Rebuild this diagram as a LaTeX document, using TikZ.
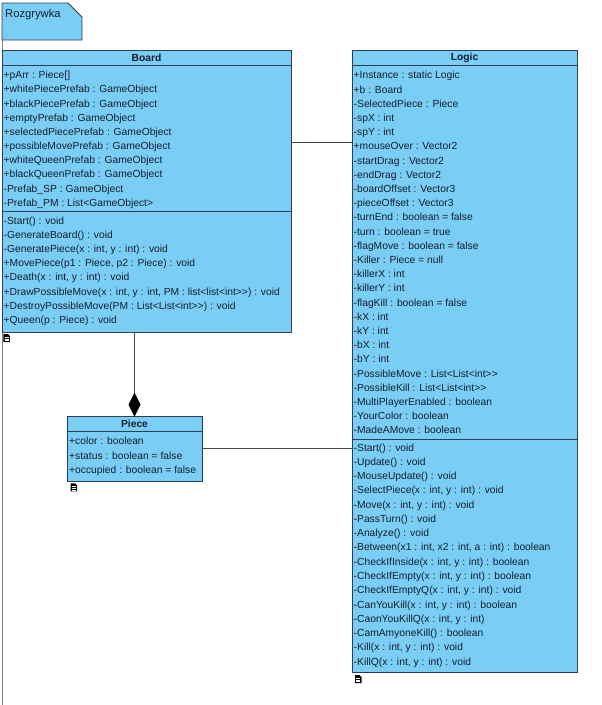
\documentclass[tikz,border=0pt]{standalone}
\usepackage{fontspec}
\setmainfont{Liberation Sans}[Ligatures=TeXOff]
\usetikzlibrary{arrows.meta}
\definecolor{umlfill}{RGB}{122,206,245}
\definecolor{umlline}{RGB}{45,62,80}
\definecolor{umltext}{RGB}{20,30,45}
\definecolor{pkgline}{RGB}{130,130,130}
\definecolor{conn}{RGB}{70,70,70}
\begin{document}
\begin{tikzpicture}[x=1pt,y=-1pt,
  classbox/.style={draw=umlline, fill=umlfill, line width=0.9pt, rectangle, inner sep=0pt, outer sep=0pt, anchor=north west},
  member/.style={anchor=base west, inner sep=0pt, font=\fontsize{10.3}{12}\selectfont, text=umltext},
  pkgtitle/.style={anchor=base west, inner sep=0pt, font=\fontsize{11.2}{13}\selectfont, text=umltext},
  classtitle/.style={anchor=center, inner sep=0pt, font=\bfseries\fontsize{10.3}{12}\selectfont, text=umltext},
  sepline/.style={draw=umlline, line width=0.9pt},
  assoc/.style={draw=conn, line width=0.8pt},
  docicon/.pic={
    \fill[black] (0,0) -- (4.5,0) -- (6.5,2) -- (6.5,8) -- (0,8) -- cycle;
    \draw[white, line width=0.5pt] (1.2,3.3) -- (5.2,3.3) (1.2,4.9) -- (5.2,4.9) (1.2,6.5) -- (5.2,6.5);
  }]
\useasboundingbox (0,0) rectangle (602,705);
\fill[white] (0,0) rectangle (602,705);

% package
\draw[pkgline, line width=0.9pt] (2,40) -- (2,705);
\draw[umlline, fill=umlfill, line width=0.8pt] (2,3) -- (68,3) -- (82,17) -- (82,40) -- (2,40) -- cycle;
\node[pkgtitle] (pkgname) at (5,17.3) {Rozgrywka};

% Board
\node[classbox, minimum width=289pt, minimum height=282pt] (board) at (2,50) {};
\draw[sepline] (2,65) -- (291,65);
\draw[sepline] (2,211) -- (291,211);
\node[classtitle] (boardtitle) at (146.5,58) {Board};
\foreach \t [count=\i from 0] in {
  {+pArr : Piece[]},
  {+whitePiecePrefab : GameObject},
  {+blackPiecePrefab : GameObject},
  {+emptyPrefab : GameObject},
  {+selectedPiecePrefab : GameObject},
  {+possibleMovePrefab : GameObject},
  {+whiteQueenPrefab : GameObject},
  {+blackQueenPrefab : GameObject},
  {-Prefab\_SP : GameObject},
  {-Prefab\_PM : List<GameObject>}}
  \node[member] (ba\i) at (3.5,{78.8+14.17*\i}) {\t};
\foreach \t [count=\i from 0] in {
  {-Start() : void},
  {-GenerateBoard() : void},
  {-GeneratePiece(x : int, y : int) : void},
  {+MovePiece(p1 : Piece, p2 : Piece) : void},
  {+Death(x : int, y : int) : void},
  {+DrawPossibleMove(x : int, y : int, PM : list<list<int>>) : void},
  {+DestroyPossibleMove(PM : List<List<int>>) : void},
  {+Queen(p : Piece) : void}}
  \node[member] (bm\i) at (3.5,{224.5+14.1*\i}) {\t};
\pic at (3.3,334) {docicon};

% Logic
\node[classbox, minimum width=225pt, minimum height=622.7pt] (logic) at (352,50) {};
\draw[sepline] (352,65) -- (577,65);
\draw[sepline] (352,439) -- (577,439);
\node[classtitle] (logictitle) at (464.5,58) {Logic};
\foreach \t [count=\i from 0] in {
  {+Instance : static Logic},
  {+b : Board},
  {-SelectedPiece : Piece},
  {-spX : int},
  {-spY : int},
  {+mouseOver : Vector2},
  {-startDrag : Vector2},
  {-endDrag : Vector2},
  {-boardOffset : Vector3},
  {-pieceOffset : Vector3},
  {-turnEnd : boolean = false},
  {-turn : boolean = true},
  {-flagMove : boolean = false},
  {-Killer : Piece = null},
  {-killerX : int},
  {-killerY : int},
  {-flagKill : boolean = false},
  {-kX : int},
  {-kY : int},
  {-bX : int},
  {-bY : int},
  {-PossibleMove : List<List<int>>},
  {-PossibleKill : List<List<int>>},
  {-MultiPlayerEnabled : boolean},
  {-YourColor : boolean},
  {-MadeAMove : boolean}}
  \node[member] (la\i) at (353.5,{78.8+14.2*\i}) {\t};
\foreach \t [count=\i from 0] in {
  {-Start() : void},
  {-Update() : void},
  {-MouseUpdate() : void},
  {-SelectPiece(x : int, y : int) : void},
  {-Move(x : int, y : int) : void},
  {-PassTurn() : void},
  {-Analyze() : void},
  {-Between(x1 : int, x2 : int, a : int) : boolean},
  {-CheckIfInside(x : int, y : int) : boolean},
  {-CheckIfEmpty(x : int, y : int) : boolean},
  {-CheckIfEmptyQ(x : int, y : int) : void},
  {-CanYouKill(x : int, y : int) : boolean},
  {-CaonYouKillQ(x : int, y : int)},
  {-CamAmyoneKill() : boolean},
  {-Kill(x : int, y : int) : void},
  {-KillQ(x : int, y : int) : void}}
  \node[member] (lm\i) at (353.5,{451.1+14.27*\i}) {\t};
\pic at (355,675) {docicon};

% Piece
\node[classbox, minimum width=135pt, minimum height=64.3pt] (piece) at (67,416.7) {};
\draw[sepline] (67,431.7) -- (202,431.7);
\node[classtitle] (piecetitle) at (134.5,424.2) {Piece};
\foreach \t [count=\i from 0] in {
  {+color : boolean},
  {+status : boolean = false},
  {+occupied : boolean = false}}
  \node[member] (pa\i) at (69,{444.8+14.35*\i}) {\t};
\pic at (70.5,483.3) {docicon};

% connectors
\coordinate (blrow) at (0,142.7);
\coordinate (plrow) at (0,448.3);
\draw[assoc] (board.east |- blrow) -- (logic.west |- blrow);
\draw[assoc] (piece.east |- plrow) -- (logic.west |- plrow);
\draw[assoc, -{Diamond[length=24pt, width=12pt, color=black, fill=black]}] (piece.north |- board.south) -- (piece.north);
\end{tikzpicture}
\end{document}
